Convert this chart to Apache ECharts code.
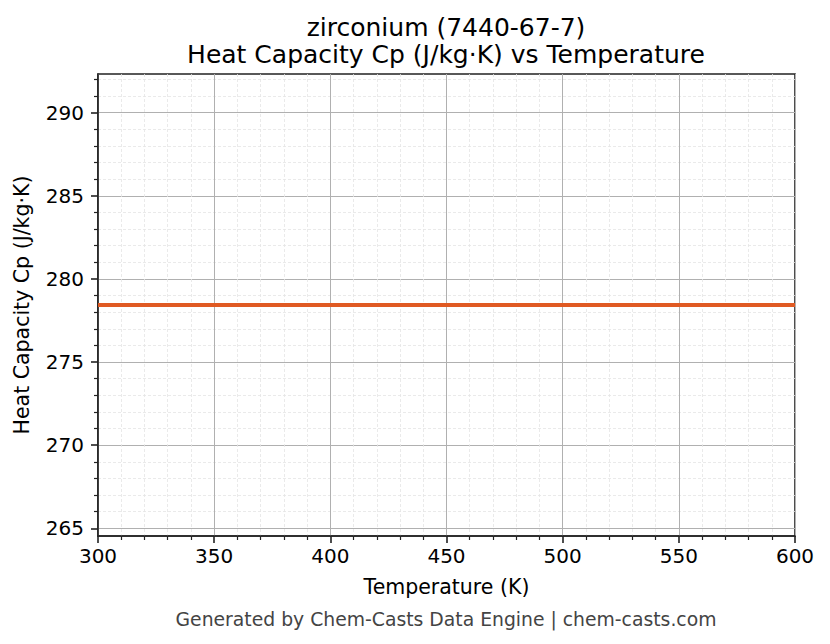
<!DOCTYPE html>
<html>
<head>
<meta charset="utf-8">
<script src="https://cdn.jsdelivr.net/npm/echarts@6/dist/echarts.min.js"></script>
<style>
  html, body { margin: 0; padding: 0; background: #fff; }
  #chart { width: 830px; height: 644px; }
</style>
</head>
<body>
<div id="chart"></div>
<script>
// data
var temperatures = [300, 350, 400, 450, 500, 550, 600];
var heatCapacity = [278.43, 278.43, 278.43, 278.43, 278.43, 278.43, 278.43];
var yMajorTicks = [265, 270, 275, 280, 285, 290];
var yMinorTicks = [266, 267, 268, 269, 271, 272, 273, 274, 276, 277, 278, 279,
                   281, 282, 283, 284, 286, 287, 288, 289, 291, 292];

(function() {
  var font = 'DejaVu Sans';
  var ink = '#000';
  var frame = '#222';
  var major = '#b0b0b0';
  var minor = '#e4e4e4';
  var lineColor = '#e05a23';
  var yMin = 264.54, yMax = 292.33;

  var points = temperatures.map(function(t, i) { return [t, heatCapacity[i]]; });
  var titleStyle = { fontFamily: font, fontSize: 25, fontWeight: 'normal', color: ink, lineHeight: 24 };

  var chart = echarts.init(document.getElementById('chart'), null, { renderer: 'svg' });
  chart.setOption({
    animation: false,
    backgroundColor: '#fff',
    textStyle: { fontFamily: font },
    title: [{
      text: 'zirconium (7440-67-7)',
      left: 446, top: 15, textAlign: 'center', padding: 0,
      textStyle: titleStyle
    }, {
      text: 'Heat Capacity Cp (J/kg·K) vs Temperature',
      left: 446, top: 42, textAlign: 'center', padding: 0,
      textStyle: titleStyle
    }, {
      text: 'Generated by Chem-Casts Data Engine | chem-casts.com',
      left: 446, top: 610, textAlign: 'center', padding: 0,
      textStyle: { fontFamily: font, fontSize: 18.8, fontWeight: 'normal', color: '#444' }
    }],
    grid: {
      left: 98, right: 35, top: 74, bottom: 108,
      show: true, borderColor: frame, borderWidth: 1.6, backgroundColor: 'transparent'
    },
    xAxis: {
      type: 'value', min: 300, max: 600, interval: 50,
      name: 'Temperature (K)', nameLocation: 'middle', nameGap: 40,
      nameTextStyle: { fontFamily: font, fontSize: 20.5, color: ink },
      axisLine: { show: true, onZero: false, lineStyle: { color: frame, width: 1.6 } },
      axisTick: { show: true, inside: false, length: 7, lineStyle: { color: frame, width: 1.6 } },
      minorTick: { show: true, splitNumber: 5, length: 4, lineStyle: { color: frame, width: 1.2 } },
      axisLabel: { fontFamily: font, fontSize: 20, color: ink, margin: 10 },
      splitLine: { show: true, lineStyle: { color: major, width: 1 } },
      minorSplitLine: { show: true, lineStyle: { color: minor, width: 0.8, type: [3, 2] } }
    },
    yAxis: [{
      type: 'value', min: yMin, max: yMax,
      name: 'Heat Capacity Cp (J/kg·K)', nameLocation: 'middle', nameGap: 66,
      nameTextStyle: { fontFamily: font, fontSize: 20.5, color: ink },
      axisLine: { show: true, onZero: false, lineStyle: { color: frame, width: 1.6 } },
      axisTick: { show: true, inside: false, length: 7, customValues: yMajorTicks, lineStyle: { color: frame, width: 1.6 } },
      axisLabel: { fontFamily: font, fontSize: 20, color: ink, margin: 14, customValues: yMajorTicks },
      splitLine: { show: true, lineStyle: { color: major, width: 1 } }
    }, {
      type: 'value', min: yMin, max: yMax, position: 'left',
      axisLine: { show: false },
      axisTick: { show: true, inside: false, length: 4, customValues: yMinorTicks, lineStyle: { color: frame, width: 1.2 } },
      axisLabel: { show: false },
      splitLine: { show: true, lineStyle: { color: minor, width: 0.8, type: [3, 2] } }
    }],
    series: [{
      type: 'line',
      yAxisIndex: 0,
      data: points,
      symbol: 'none',
      lineStyle: { color: lineColor, width: 4 },
      z: 10
    }]
  });
})();
</script>
</body>
</html>
